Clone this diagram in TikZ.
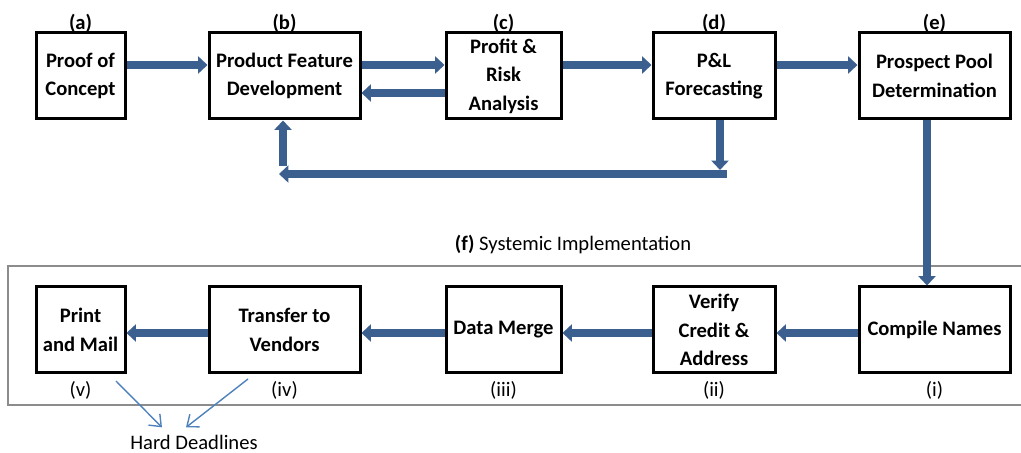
\documentclass[tikz,border=0pt]{standalone}
\usepackage{fontspec}
\setmainfont{Carlito}
\usepackage{tikz}
\usetikzlibrary{arrows.meta,positioning}
\definecolor{flowblue}{RGB}{59,95,143}
\definecolor{noteblue}{RGB}{79,129,189}
\definecolor{framegray}{RGB}{140,140,140}

\begin{document}
\begin{tikzpicture}[x=0.5pt, y=-0.5pt,
  every node/.style={align=center, font=\fontsize{10.3}{14.2}\selectfont},
  box/.style={draw, line width=1.5pt, minimum height=43pt, inner sep=1pt,
              font=\fontsize{10.3}{14.2}\selectfont\bfseries},
  tag/.style={font=\fontsize{10.3}{12}\selectfont\bfseries, inner sep=0.5pt},
  sub/.style={font=\fontsize{10.3}{12}\selectfont, inner sep=0.5pt},
  arr/.style={-{Triangle[length=4.7pt,width=8.5pt]}, line width=4.3pt, flowblue},
  note/.style={-{Straight Barb[length=5pt,width=8pt]}, line width=0.7pt, noteblue},
]
  \useasboundingbox (0,0) rectangle (1021,453);

  % Top row: planning stages
  \node[box, minimum width=44.5pt] (a) at (80.5,76)  {Proof of\\Concept};
  \node[box, minimum width=75.5pt] (b) at (284.5,76) {Product Feature\\Development};
  \node[box, minimum width=57.5pt] (c) at (503.5,76) {Profit \&\\Risk\\Analysis};
  \node[box, minimum width=61pt]   (d) at (714,76)   {P\&L\\Forecasting};
  \node[box, minimum width=75.5pt] (e) at (934.5,76) {Prospect Pool\\Determination};

  \node[tag] at ([yshift=3.8pt]a.north) {(a)};
  \node[tag] at ([yshift=3.8pt]b.north) {(b)};
  \node[tag] at ([yshift=3.8pt]c.north) {(c)};
  \node[tag] at ([yshift=3.8pt]d.north) {(d)};
  \node[tag] at ([yshift=3.8pt]e.north) {(e)};

  % Frame round the implementation stages
  \draw[framegray, line width=0.85pt] (1021,266) -- (8,266) -- (8,405) -- (1021,405);
  \node (flabel) at (573,245) {\textbf{(f)} Systemic Implementation};

  % Bottom row: implementation stages
  \node[box, minimum width=44.5pt] (v)   at (80.5,330)  {Print\\and Mail};
  \node[box, minimum width=75.5pt] (iv)  at (284.5,330) {Transfer to\\Vendors};
  \node[box, minimum width=57.5pt] (iii) at (503.5,330) {Data Merge};
  \node[box, minimum width=61pt]   (ii)  at (714,330)   {Verify\\Credit \&\\Address};
  \node[box, minimum width=75.5pt] (i)   at (934.5,330) {Compile Names};

  \node[sub, below=3pt of v]   (lv)   {(v)};
  \node[sub, below=3pt of iv]  (liv)  {(iv)};
  \node[sub, below=3pt of iii] (liii) {(iii)};
  \node[sub, below=3pt of ii]  (lii)  {(ii)};
  \node[sub, below=3pt of i]   (li)   {(i)};

  \node[inner sep=0.5pt] (hd) at (194,442) {Hard Deadlines};

  % Arrows along the top row
  \draw[arr] ([yshift=5.5pt]a.east) -- ([yshift=5.5pt]b.west);
  \draw[arr] ([yshift=5.5pt]b.east) -- ([yshift=5.5pt]c.west);
  \draw[arr] ([yshift=-8.5pt]c.west) -- ([yshift=-8.5pt]b.east);
  \draw[arr] ([yshift=5.5pt]c.east) -- ([yshift=5.5pt]d.west);
  \draw[arr] ([yshift=5.5pt]d.east) -- ([yshift=5.5pt]e.west);

  % Feedback from forecasting back to development
  \coordinate (dturn) at (720,170);
  \coordinate (barR)  at (727,174);
  \coordinate (barL)  at (279,174);
  \coordinate (bturn) at (283,166);
  \draw[arr] ([xshift=3pt]d.south) -- (dturn);
  \draw[arr] (barR) -- (barL);
  \draw[arr] (bturn) -- ([xshift=-0.75pt]b.south);

  % Down into the implementation row
  \draw[arr] ([xshift=-3.75pt]e.south) -- ([xshift=-3.75pt]i.north);

  % Arrows along the bottom row
  \draw[arr] ([yshift=-1.5pt]i.west)   -- ([yshift=-1.5pt]ii.east);
  \draw[arr] ([yshift=-1.5pt]ii.west)  -- ([yshift=-1.5pt]iii.east);
  \draw[arr] ([yshift=-1.5pt]iii.west) -- ([yshift=-1.5pt]iv.east);
  \draw[arr] ([yshift=-1.5pt]iv.west)  -- ([yshift=-1.5pt]v.east);

  % Deadline notes
  \coordinate (vnote)  at (116,381);
  \coordinate (ivnote) at (248,379);
  \draw[note] (vnote)  -- ([xshift=-16pt,yshift=3pt]hd.north);
  \draw[note] (ivnote) -- ([xshift=-4pt,yshift=3pt]hd.north);
\end{tikzpicture}
\end{document}
